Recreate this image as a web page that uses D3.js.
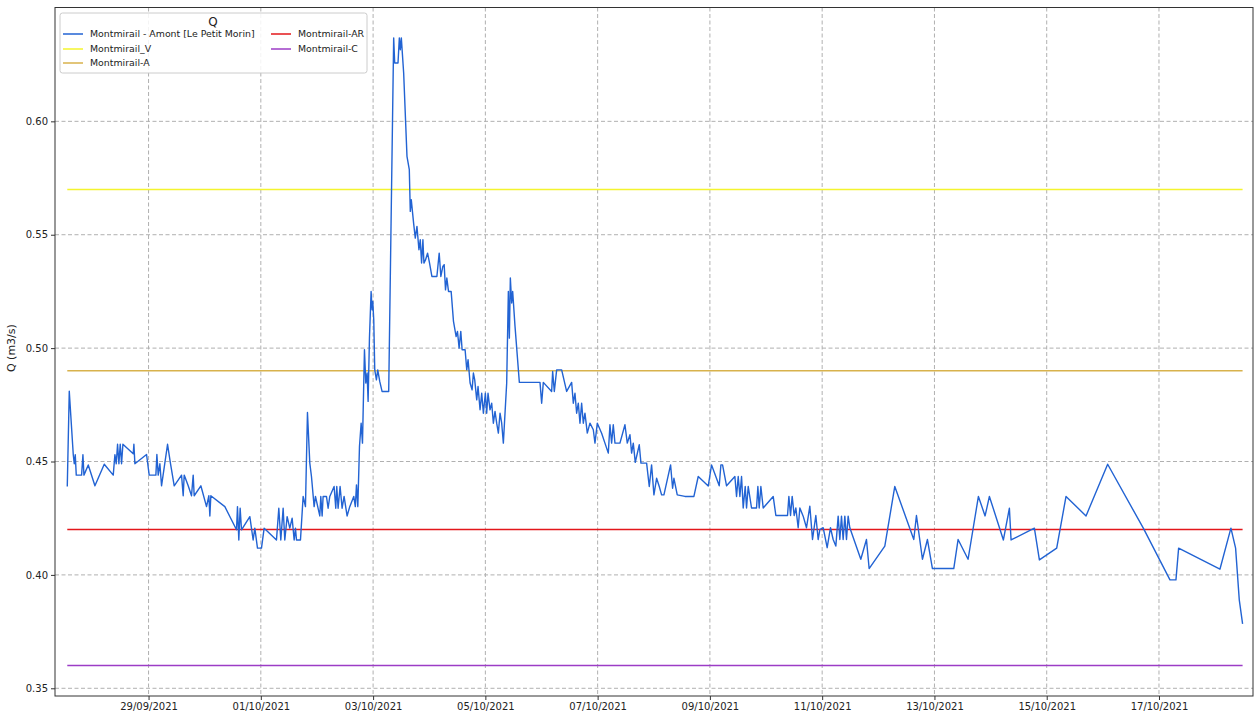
<!DOCTYPE html>
<html>
<head>
<meta charset="utf-8">
<script src="https://cdn.jsdelivr.net/npm/d3@7"></script>
<style>
    body { margin: 0; background: #fff; }
    svg { display: block; font-family: "DejaVu Sans", sans-serif; }
</style>
</head>
<body>
<div id="chart"></div>
<script>
// Series start (hours in flowReadings are counted from this date)
const seriesStart = new Date(2021, 8, 27, 0, 0);

// Q readings: [hours since seriesStart, m3/s]
const flowReadings = [
    [13.25, 0.439], [14.10, 0.481], [15.81, 0.453], [16.24, 0.449], [16.66, 0.453], [17.09, 0.444],
    [19.37, 0.444], [19.94, 0.453], [20.37, 0.444], [22.22, 0.4485], [25.07, 0.4393], [29.06, 0.4488],
    [32.90, 0.444], [33.61, 0.453], [34.18, 0.449], [34.75, 0.4576], [35.32, 0.449], [35.89, 0.4576],
    [36.46, 0.449], [37.03, 0.4576], [41.45, 0.4534], [41.73, 0.4576], [42.16, 0.449], [47.14, 0.4531],
    [48.28, 0.444], [51.13, 0.444], [51.56, 0.4531], [52.13, 0.444], [52.84, 0.449], [53.55, 0.4393],
    [56.12, 0.4576], [57.40, 0.449], [58.97, 0.4393], [62.10, 0.444], [62.81, 0.4349], [63.24, 0.444],
    [64.95, 0.4393], [66.37, 0.4349], [67.08, 0.444], [67.51, 0.4349], [70.36, 0.4393], [72.78, 0.4301],
    [73.78, 0.4349], [74.21, 0.426], [74.63, 0.4349], [80.62, 0.4301], [85.60, 0.4199], [86.02, 0.4301],
    [86.59, 0.4154], [87.16, 0.4294], [87.74, 0.4199], [91.30, 0.4257], [92.72, 0.4154], [93.43, 0.4206],
    [94.57, 0.4118], [96.28, 0.4118], [97.42, 0.4206], [102.69, 0.4154], [103.69, 0.4294], [104.54, 0.4154],
    [105.54, 0.4294], [106.25, 0.4154], [107.25, 0.4257], [108.39, 0.4206], [109.39, 0.425], [110.25, 0.4154],
    [110.82, 0.4206], [111.24, 0.4154], [112.95, 0.4154], [114.09, 0.4346], [115.08, 0.4301], [115.94, 0.4716],
    [116.94, 0.4493], [117.65, 0.4434], [118.79, 0.4301], [119.36, 0.4346], [121.21, 0.426], [121.64, 0.4346],
    [122.21, 0.426], [122.63, 0.4346], [124.06, 0.4346], [124.77, 0.4294], [125.48, 0.4346], [127.33, 0.439],
    [128.04, 0.4294], [128.47, 0.439], [129.04, 0.4294], [129.89, 0.439], [130.75, 0.4294], [131.60, 0.4346],
    [132.88, 0.426], [134.02, 0.4301], [135.73, 0.4346], [136.40, 0.4301], [136.90, 0.4397], [137.47, 0.4301],
    [138.18, 0.4566], [138.89, 0.4669], [139.46, 0.4581], [140.31, 0.4993], [140.88, 0.4846], [141.44, 0.489],
    [141.87, 0.4765], [142.44, 0.5044], [143.15, 0.525], [143.57, 0.5169], [143.86, 0.5206], [144.28, 0.5125],
    [144.71, 0.4904], [145.42, 0.486], [145.99, 0.4904], [146.84, 0.4853], [147.83, 0.4809], [150.67, 0.4809],
    [152.80, 0.6368], [153.23, 0.6257], [154.65, 0.6257], [155.22, 0.6368], [155.64, 0.6316], [156.07, 0.6368],
    [157.07, 0.6213], [158.49, 0.5846], [159.48, 0.5787], [159.90, 0.5603], [160.33, 0.5654], [161.32, 0.5551],
    [162.04, 0.5485], [162.75, 0.5537], [163.60, 0.5434], [164.16, 0.5478], [164.73, 0.5375], [165.30, 0.5478],
    [165.73, 0.5375], [166.44, 0.539], [167.29, 0.5419], [168.14, 0.5375], [169.14, 0.5316], [171.27, 0.5316],
    [172.26, 0.5419], [172.97, 0.5316], [173.82, 0.536], [174.39, 0.5368], [174.96, 0.5257], [175.53, 0.5309],
    [176.24, 0.525], [177.37, 0.525], [178.37, 0.5118], [179.50, 0.5051], [180.07, 0.5074], [180.78, 0.5],
    [181.49, 0.5074], [182.06, 0.4993], [183.34, 0.4993], [184.05, 0.4904], [184.61, 0.4949], [185.47, 0.4846],
    [186.32, 0.4816], [186.89, 0.489], [187.45, 0.486], [188.31, 0.4772], [188.87, 0.4831], [189.73, 0.4728],
    [190.44, 0.4801], [191.15, 0.4713], [192.00, 0.4801], [192.57, 0.4713], [193.14, 0.4801], [193.99, 0.4728],
    [194.71, 0.4757], [195.42, 0.4669], [196.13, 0.4721], [196.84, 0.4669], [197.56, 0.4625], [198.27, 0.4713],
    [198.98, 0.4669], [199.69, 0.4581], [201.12, 0.4846], [201.83, 0.525], [202.26, 0.5044], [202.68, 0.5309],
    [203.25, 0.5199], [203.68, 0.525], [204.68, 0.5096], [206.53, 0.4849], [215.36, 0.4849], [216.07, 0.4757],
    [216.78, 0.4849], [220.34, 0.4809], [220.77, 0.4897], [221.48, 0.4809], [222.48, 0.4904], [224.62, 0.4904],
    [226.75, 0.4809], [228.89, 0.4849], [229.60, 0.4757], [230.31, 0.4801], [231.03, 0.4713], [231.74, 0.4757],
    [232.45, 0.4669], [233.16, 0.4757], [233.88, 0.4669], [234.59, 0.4713], [235.58, 0.4625], [236.72, 0.4669],
    [238.15, 0.464], [238.86, 0.4581], [239.86, 0.4669], [241.71, 0.4625], [243.13, 0.4581], [244.56, 0.4537],
    [245.27, 0.4662], [245.98, 0.4581], [246.69, 0.4662], [247.41, 0.4581], [249.54, 0.4581], [251.68, 0.4662],
    [252.68, 0.4581], [253.82, 0.4618], [254.53, 0.4537], [255.24, 0.4581], [256.09, 0.4496], [257.80, 0.4574],
    [258.52, 0.4493], [260.94, 0.4493], [262.08, 0.439], [263.07, 0.4485], [264.07, 0.4353], [265.21, 0.4426],
    [266.35, 0.439], [267.35, 0.4353], [268.34, 0.4353], [271.19, 0.4485], [272.05, 0.4382], [272.62, 0.4426],
    [274.04, 0.4353], [277.32, 0.4346], [281.16, 0.4346], [283.01, 0.4434], [287.29, 0.4392], [288.71, 0.4485],
    [291.99, 0.4393], [292.70, 0.4485], [293.41, 0.4485], [295.12, 0.4393], [298.68, 0.4434], [299.39, 0.4346],
    [300.11, 0.4434], [300.82, 0.4346], [301.53, 0.4434], [302.24, 0.4295], [303.10, 0.439], [303.67, 0.4295],
    [304.38, 0.439], [305.80, 0.4295], [307.94, 0.4295], [308.51, 0.439], [309.08, 0.4295], [309.79, 0.439],
    [310.79, 0.4295], [315.06, 0.4346], [316.20, 0.4262], [321.19, 0.4262], [321.76, 0.4346], [322.47, 0.4262],
    [323.18, 0.4346], [324.03, 0.4262], [324.75, 0.4295], [325.74, 0.4208], [326.46, 0.4295], [327.88, 0.4259],
    [329.30, 0.4208], [330.73, 0.4303], [331.87, 0.4156], [333.29, 0.4262], [334.29, 0.4156], [335.00, 0.42],
    [336.43, 0.4208], [338.14, 0.412], [339.56, 0.4208], [340.70, 0.4156], [341.84, 0.4127], [342.84, 0.4259],
    [343.55, 0.4156], [344.26, 0.4259], [344.97, 0.4156], [345.69, 0.4259], [346.40, 0.4156], [347.11, 0.4259],
    [347.82, 0.4208], [352.52, 0.4069], [354.94, 0.4156], [356.08, 0.4028], [362.78, 0.4127], [367.05, 0.439],
    [375.17, 0.4156], [376.31, 0.4262], [378.87, 0.4069], [381.01, 0.4156], [383.14, 0.4028], [392.26, 0.4028],
    [394.11, 0.4156], [398.38, 0.4069], [402.80, 0.4346], [405.65, 0.426], [407.50, 0.4346], [413.48, 0.4154],
    [416.05, 0.4294], [416.76, 0.4154], [426.73, 0.4206], [428.87, 0.4066], [436.27, 0.4118], [440.26, 0.4346],
    [448.81, 0.426], [458.06, 0.4488], [473.30, 0.4206], [484.70, 0.3978], [487.26, 0.3978], [488.40, 0.4118],
    [506.06, 0.4025], [510.76, 0.4206], [512.76, 0.4118], [514.33, 0.389], [515.75, 0.3784]
];

// Threshold levels (constant lines over the same period)
const thresholdNames = ["Montmirail_V", "Montmirail-A", "Montmirail-AR", "Montmirail-C"];
const thresholdValues = [0.57, 0.49, 0.42, 0.36];

const seriesName = "Montmirail - Amont [Le Petit Morin]";
const legendTitle = "Q";
const yLabel = "Q (m3/s)";

const dateTickLabels = ["29/09/2021", "01/10/2021", "03/10/2021", "05/10/2021", "07/10/2021",
    "09/10/2021", "11/10/2021", "13/10/2021", "15/10/2021", "17/10/2021"];
const valueTicks = [0.35, 0.40, 0.45, 0.50, 0.55, 0.60];

// Axis limits
const xStartHours = 8.0;
const xEndHours = 520.2;
const yMin = 0.3466;
const yMax = 0.6502;

// Colors
const seriesColor = "#2263d3";
const thresholdColors = ["#f4f42e", "#d8b24c", "#e3171b", "#9c3cc6"];

const width = 1255;
const height = 716;
const margin = { top: 7.5, right: 2, bottom: 20, left: 55 };

const toDate = h => new Date(seriesStart.getTime() + h * 3600e3);
const parseTick = d3.timeParse("%d/%m/%Y");

const svg = d3.select("#chart").append("svg")
    .attr("width", width)
    .attr("height", height);

const x = d3.scaleTime()
    .domain([toDate(xStartHours), toDate(xEndHours)])
    .range([margin.left, width - margin.right]);
const y = d3.scaleLinear()
    .domain([yMin, yMax])
    .range([height - margin.bottom, margin.top]);

const dateTicks = dateTickLabels.map(parseTick);
const minorDateTicks = d3.timeHour.every(12).range(x.domain()[0], x.domain()[1]);
const minorValueTicks = d3.range(35, 65).map(d => d / 100);

// Grid
const grid = svg.append("g").attr("stroke", "#b0b0b0").attr("stroke-dasharray", "4,2.5").attr("stroke-width", 1);
grid.selectAll(".vg").data(dateTicks).enter().append("line")
    .attr("x1", d => x(d)).attr("x2", d => x(d))
    .attr("y1", margin.top).attr("y2", height - margin.bottom);
grid.selectAll(".hg").data(valueTicks).enter().append("line")
    .attr("x1", margin.left).attr("x2", width - margin.right)
    .attr("y1", d => y(d)).attr("y2", d => y(d));

// Threshold lines
const firstH = flowReadings[0][0];
const lastH = flowReadings[flowReadings.length - 1][0];
svg.append("g").selectAll("line").data(thresholdValues).enter().append("line")
    .attr("x1", x(toDate(firstH))).attr("x2", x(toDate(lastH)))
    .attr("y1", d => y(d)).attr("y2", d => y(d))
    .attr("stroke", (d, i) => thresholdColors[i])
    .attr("stroke-width", 1.5);

// Main series
const line = d3.line()
    .x(d => x(toDate(d[0])))
    .y(d => y(d[1]));
svg.append("path")
    .datum(flowReadings)
    .attr("fill", "none")
    .attr("stroke", seriesColor)
    .attr("stroke-width", 1.4)
    .attr("stroke-linejoin", "round")
    .attr("d", line);

// Axes
const xAxis = d3.axisBottom(x).tickValues(dateTicks).tickFormat(d3.timeFormat("%d/%m/%Y")).tickSize(4).tickPadding(3);
const xMinor = d3.axisBottom(x).tickValues(minorDateTicks).tickFormat("").tickSize(2.5);
const yAxis = d3.axisLeft(y).tickValues(valueTicks).tickFormat(d3.format(".2f")).tickSize(4).tickPadding(3);
const yMinor = d3.axisLeft(y).tickValues(minorValueTicks).tickFormat("").tickSize(2.5);

const gx = svg.append("g").attr("transform", `translate(0,${height - margin.bottom})`);
gx.call(xMinor);
gx.call(xAxis);
const gy = svg.append("g").attr("transform", `translate(${margin.left},0)`);
gy.call(yMinor);
gy.call(yAxis);
[gx, gy].forEach(g => {
    g.select(".domain").remove();
    g.selectAll("text").attr("font-size", 10).attr("fill", "#222").attr("font-family", "DejaVu Sans");
    g.selectAll("line").attr("stroke", "#333");
});

// Frame
svg.append("rect")
    .attr("x", margin.left).attr("y", margin.top)
    .attr("width", width - margin.left - margin.right)
    .attr("height", height - margin.top - margin.bottom)
    .attr("fill", "none").attr("stroke", "#333").attr("stroke-width", 1);

// Y label
svg.append("text")
    .attr("transform", `translate(15,${y(0.50)}) rotate(-90)`)
    .attr("text-anchor", "middle")
    .attr("font-size", 11)
    .attr("fill", "#222")
    .text(yLabel);

// Legend
const legend = svg.append("g").attr("transform", "translate(60,13)");
legend.append("rect")
    .attr("width", 307).attr("height", 60).attr("rx", 2.5)
    .attr("fill", "#fff").attr("fill-opacity", 0.85)
    .attr("stroke", "#ccc");
legend.append("text")
    .attr("x", 153).attr("y", 12.5)
    .attr("text-anchor", "middle")
    .attr("font-size", 12)
    .attr("fill", "#222")
    .text(legendTitle);

const legendItems = [{ name: seriesName, color: seriesColor }]
    .concat(thresholdNames.map((n, i) => ({ name: n, color: thresholdColors[i] })));
const legendPos = [[3, 21], [3, 36], [3, 50], [211, 21], [211, 36]];
const item = legend.selectAll(".item").data(legendItems).enter().append("g")
    .attr("transform", (d, i) => `translate(${legendPos[i][0]},${legendPos[i][1]})`);
item.append("line")
    .attr("x1", 0).attr("x2", 20)
    .attr("stroke", d => d.color).attr("stroke-width", 1.5);
item.append("text")
    .attr("x", 27).attr("dy", "0.35em")
    .attr("font-size", 9.4)
    .attr("fill", "#222")
    .text(d => d.name);
</script>
</body>
</html>
